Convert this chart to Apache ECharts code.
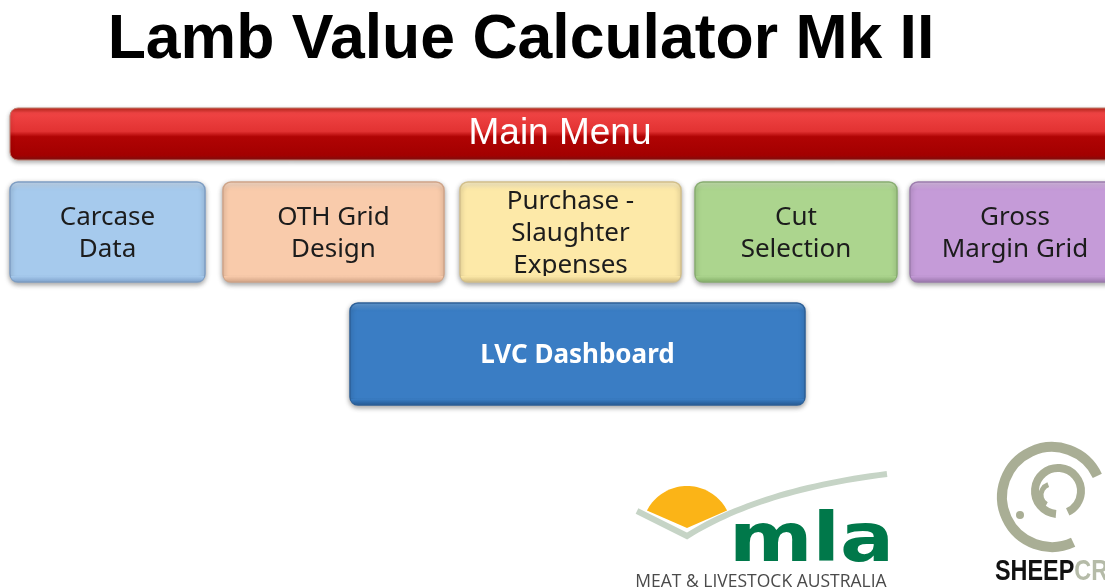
<!DOCTYPE html>
<html>
<head>
<meta charset="utf-8">
<script src="https://cdn.jsdelivr.net/npm/echarts@6/dist/echarts.min.js"></script>
<style>
  html, body { margin: 0; padding: 0; background: #fff; }
  #main { width: 1105px; height: 587px; }
</style>
</head>
<body>
<div id="main"></div>
<script>
// labels
const titleText = 'Lamb Value Calculator Mk II'
const menuLabel = 'Main Menu'
const buttonLabels = [
    ['Carcase', 'Data'],
    ['OTH Grid', 'Design'],
    ['Purchase -', 'Slaughter', 'Expenses'],
    ['Cut', 'Selection'],
    ['Gross', 'Margin Grid']
]
const dashboardLabel = 'LVC Dashboard'
const mlaName = 'mla'
const mlaSub = 'MEAT & LIVESTOCK AUSTRALIA'
const crcName = ['SHEEP', 'CRC']

// layout (x0, x1) of the top row, and colours [top, body, bottom, border]
const rowTop = 182, rowBottom = 282
const buttonX = [[10, 205], [223, 444], [460, 681], [695, 897], [910, 1120]]
const buttonColors = [
    ['#cde1f6', '#a6caed', '#86a9d2', '#7d9dc3'],
    ['#fde2cf', '#f9cbab', '#d9ab8d', '#cfa488'],
    ['#fff4cf', '#fde9a8', '#dcc688', '#d2bf8a'],
    ['#cde8b7', '#acd58e', '#8bb56f', '#88ad70'],
    ['#dfc4ea', '#c59bd8', '#a27db4', '#9c7cad']
]

function button(x0, y0, x1, y1, cols, lines, fontSize, lineH, bold, textColor) {
    const w = x1 - x0, h = y1 - y0
    const els = [{
        type: 'rect',
        shape: { x: x0, y: y0, width: w, height: h, r: 8 },
        style: {
            fill: new echarts.graphic.LinearGradient(0, 0, 0, 1, [
                { offset: 0, color: cols[0] },
                { offset: 0.08, color: cols[1] },
                { offset: 0.92, color: cols[1] },
                { offset: 1, color: cols[2] }
            ]),
            stroke: cols[3], lineWidth: 1.5,
            shadowBlur: 5, shadowOffsetY: 2, shadowColor: 'rgba(0,0,0,0.35)'
        }
    }]
    const cy = (y0 + y1) / 2 + 2
    lines.forEach((t, i) => {
        els.push({
            type: 'text',
            style: {
                x: (x0 + x1) / 2,
                y: cy + (i - (lines.length - 1) / 2) * lineH,
                text: t,
                align: 'center', verticalAlign: 'middle',
                fontFamily: 'Noto Sans', fontSize: fontSize,
                fontWeight: bold ? 'bold' : 'normal',
                fill: textColor
            }
        })
    })
    // bottom bevel drawn over the text
    els.push({
        type: 'rect',
        shape: { x: x0 + 1, y: y1 - 6, width: w - 2, height: 5, r: [0, 0, 7, 7] },
        style: {
            fill: new echarts.graphic.LinearGradient(0, 0, 0, 1, [
                { offset: 0, color: cols[1] },
                { offset: 1, color: cols[2] }
            ])
        }
    })
    return els
}

// points along a quadratic curve / circle arc (for logo shapes)
function quad(p0, c, p1, n) {
    const pts = []
    for (let i = 0; i <= n; i++) {
        const t = i / n, u = 1 - t
        pts.push([u * u * p0[0] + 2 * u * t * c[0] + t * t * p1[0],
                  u * u * p0[1] + 2 * u * t * c[1] + t * t * p1[1]])
    }
    return pts
}
function arcPts(cx, cy, r, a0, a1, n) {
    const pts = []
    for (let i = 0; i <= n; i++) {
        const a = (a0 + (a1 - a0) * i / n) * Math.PI / 180
        pts.push([cx + r * Math.cos(a), cy + r * Math.sin(a)])
    }
    return pts
}
const deg = Math.PI / 180

let elements = []

elements.push({
    type: 'text',
    style: {
        x: 521, y: 41, text: titleText, align: 'center', verticalAlign: 'middle',
        fontFamily: 'Liberation Sans', fontWeight: 'bold', fontSize: 62.5, fill: '#000'
    }
})

// main menu bar
elements.push({
    type: 'rect',
    shape: { x: 10, y: 108, width: 1110, height: 52, r: 8 },
    style: {
        fill: new echarts.graphic.LinearGradient(0, 0, 0, 1, [
            { offset: 0, color: '#b82418' },
            { offset: 0.1, color: '#f04444' },
            { offset: 0.45, color: '#e23232' },
            { offset: 0.55, color: '#b00404' },
            { offset: 0.9, color: '#a30000' },
            { offset: 1, color: '#7e1010' }
        ]),
        stroke: '#c08070', lineWidth: 1,
        shadowBlur: 4, shadowOffsetY: 2, shadowColor: 'rgba(0,0,0,0.3)'
    }
})
elements.push({
    type: 'text',
    style: {
        x: 560, y: 134, text: menuLabel, align: 'center', verticalAlign: 'middle',
        fontFamily: 'Liberation Sans', fontSize: 37, fill: '#fff'
    }
})

buttonLabels.forEach((lines, i) => {
    elements = elements.concat(button(buttonX[i][0], rowTop, buttonX[i][1], rowBottom,
        buttonColors[i], lines, 26, 32, false, '#1c1c1c'))
})

elements = elements.concat(button(350, 303, 805, 405,
    ['#6aa3dc', '#3a7dc4', '#28609c', '#2c5f97'], [dashboardLabel], 26, 30, true, '#fff'))

// MLA logo
elements.push({
    type: 'polygon',
    shape: { points: arcPts(687, 531, 45, 207, 333, 40).concat([[687, 528]]) },
    style: { fill: '#fbb417' }
})
elements.push({
    type: 'polyline',
    shape: { points: [[637, 511]].concat(quad([687, 536], [760, 490], [887, 474], 30)) },
    style: { fill: 'none', stroke: '#c6d4c6', lineWidth: 6 }
})
elements.push({
    type: 'text',
    x: 729, y: 577,
    scaleX: 1.18,
    style: {
        x: 0, y: 0, text: mlaName, align: 'left', verticalAlign: 'bottom',
        fontFamily: 'DejaVu Sans', fontWeight: 'bold', fontSize: 68, fill: '#00784a'
    }
})
elements.push({
    type: 'text',
    style: {
        x: 761, y: 582, text: mlaSub, align: 'center', verticalAlign: 'middle',
        fontFamily: 'Open Sans', fontSize: 17.5, fill: '#4a4a4a'
    }
})

// Sheep CRC logo
const olive = '#a9ae95'
elements.push({
    type: 'arc',
    shape: { cx: 1052, cy: 497, r: 50, startAngle: 65 * deg, endAngle: 335 * deg },
    style: { fill: 'none', stroke: olive, lineWidth: 10 }
})
elements.push({
    type: 'arc',
    shape: { cx: 1058, cy: 491, r: 23, startAngle: 95 * deg, endAngle: 425 * deg },
    style: { fill: 'none', stroke: olive, lineWidth: 8 }
})
elements.push({
    type: 'arc',
    shape: { cx: 1052, cy: 495, r: 11, startAngle: 120 * deg, endAngle: 250 * deg },
    style: { fill: 'none', stroke: olive, lineWidth: 5 }
})
elements.push({
    type: 'circle',
    shape: { cx: 1020, cy: 515, r: 4 },
    style: { fill: olive }
})
elements.push({
    type: 'text',
    x: 995, y: 587,
    scaleX: 0.78,
    style: {
        x: 0, y: 0, text: '{a|' + crcName[0] + '}{b|' + crcName[1] + '}', verticalAlign: 'bottom',
        rich: {
            a: { fontFamily: 'Liberation Sans', fontWeight: 'bold', fontSize: 30, fill: '#111' },
            b: { fontFamily: 'Liberation Sans', fontWeight: 'bold', fontSize: 30, fill: '#b5bba8' }
        }
    }
})

const chart = echarts.init(document.getElementById('main'))
chart.setOption({
    backgroundColor: '#fff',
    animation: false,
    graphic: { elements: elements }
})
</script>
</body>
</html>
